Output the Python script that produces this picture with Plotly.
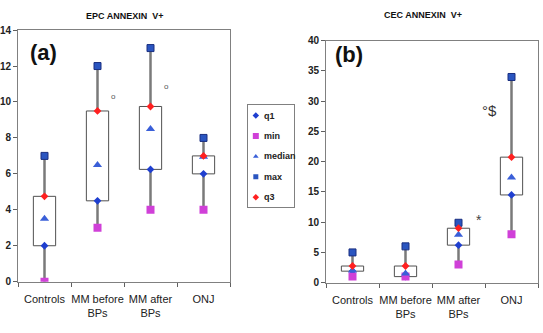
import plotly.graph_objects as go

categories = ["Controls", "MM before<br>BPs", "MM after<br>BPs", "ONJ"]

# Panel (a) EPC ANNEXIN V+
epc_min = [0, 3, 4, 4]
epc_q1 = [2, 4.5, 6.25, 6]
epc_median = [3.5, 6.5, 8.5, 6.95]
epc_q3 = [4.75, 9.5, 9.75, 7]
epc_max = [7, 12, 13, 8]
epc_outlier_cats = ["MM before<br>BPs", "MM after<br>BPs"]
epc_outlier_vals = [10.3, 10.85]

# Panel (b) CEC ANNEXIN V+
cec_min = [1, 1, 3, 8]
cec_q1 = [1.9, 1, 6.2, 14.5]
cec_median = [2, 1.5, 7.9, 17.4]
cec_q3 = [2.75, 2.75, 9, 20.75]
cec_max = [5, 6, 9.9, 34]

legend_names = ["q1", "min", "median", "max", "q3"]

FONT = "Arial, Liberation Sans, sans-serif"
WHISKER = "#7a7a7a"
BOXLINE = "#505050"

styles = {
    "q1": dict(symbol="diamond", size=6, color="#1f3fd0"),
    "min": dict(symbol="square", size=8, color="#d040d8"),
    "median": dict(symbol="triangle-up", size=8, color="#3a5fd8"),
    "max": dict(symbol="square", size=7, color="#2a55c0", line=dict(color="#1a2f80", width=1)),
    "q3": dict(symbol="diamond", size=6, color="#ff2020"),
}
legend_styles = {
    "q1": dict(symbol="diamond", size=5, color="#1f3fd0"),
    "min": dict(symbol="square", size=6, color="#d040d8"),
    "median": dict(symbol="triangle-up", size=5, color="#3a5fd8"),
    "max": dict(symbol="square", size=5, color="#2a55c0"),
    "q3": dict(symbol="diamond", size=5, color="#ff2020"),
}

fig = go.Figure()

def add_panel(xa, ya, mn, q1, med, q3, mx):
    fig.add_trace(go.Bar(x=categories, y=[b - a for a, b in zip(q1, q3)], base=q1,
                         width=0.42, marker=dict(color="white", line=dict(color=BOXLINE, width=1)),
                         xaxis=xa, yaxis=ya, showlegend=False, hoverinfo="skip"))
    wx, wy = [], []
    for c, a, b, d, e in zip(categories, mn, q1, q3, mx):
        wx += [c, c, None, c, c, None]
        wy += [a, b, None, d, e, None]
    fig.add_trace(go.Scatter(x=wx, y=wy, mode="lines", line=dict(color=WHISKER, width=2.5),
                             xaxis=xa, yaxis=ya, showlegend=False, hoverinfo="skip"))
    for name, vals in [("q1", q1), ("min", mn), ("median", med), ("max", mx), ("q3", q3)]:
        fig.add_trace(go.Scatter(x=categories, y=vals, mode="markers", name=name,
                                 marker=styles[name], xaxis=xa, yaxis=ya,
                                 showlegend=False))

add_panel("x", "y", epc_min, epc_q1, epc_median, epc_q3, epc_max)
add_panel("x2", "y2", cec_min, cec_q1, cec_median, cec_q3, cec_max)

# legend drawn on its own small axis
for i, name in enumerate(legend_names):
    fig.add_trace(go.Scatter(x=[0.17], y=[i], mode="markers", marker=legend_styles[name],
                             xaxis="x3", yaxis="y3", showlegend=False, hoverinfo="skip"))

axis_common = dict(showline=True, linecolor="#808080", linewidth=1, mirror=True,
                   showgrid=False, zeroline=False, ticks="outside", ticklen=4, tickcolor="#606060")

fig.update_layout(
    width=543, height=333, margin=dict(l=0, r=0, t=0, b=0),
    plot_bgcolor="white", paper_bgcolor="white",
    font=dict(family=FONT, color="#222"),
    barmode="overlay", showlegend=False,
    xaxis=dict(domain=[18/543, 230/543], type="category", tickson="boundaries", tickangle=0,
               ticklabelstandoff=7,
               tickfont=dict(size=11, color="#222"), anchor="y", **axis_common),
    yaxis=dict(domain=[1-286/333, 1-25/333], range=[0, 14], dtick=2,
               tickfont=dict(size=10, color="#222", weight="bold"), anchor="x", **axis_common),
    xaxis2=dict(domain=[326/543, 538/543], type="category", tickson="boundaries", tickangle=0,
                ticklabelstandoff=7,
                tickfont=dict(size=11, color="#222"), anchor="y2", **axis_common),
    yaxis2=dict(domain=[1-287/333, 1-36/333], range=[0, 40], dtick=5,
                tickfont=dict(size=10, color="#222", weight="bold"), anchor="x2", **axis_common),
    xaxis3=dict(domain=[248/543, 294/543], range=[0, 1], showline=True, mirror=True,
                linecolor="#808080", linewidth=1, showgrid=False, zeroline=False,
                showticklabels=False, ticks="", anchor="y3", fixedrange=True),
    yaxis3=dict(domain=[1-209/333, 1-103/333], range=[4.5, -0.5], showline=True, mirror=True,
                linecolor="#808080", linewidth=1, showgrid=False, zeroline=False,
                showticklabels=False, ticks="", anchor="x3", fixedrange=True),
)

ann = [
    dict(text="EPC ANNEXIN  V+", x=124/543, y=1-10/333, xref="paper", yref="paper",
         xanchor="center", yanchor="middle",
         showarrow=False, font=dict(size=9, weight="bold", color="#111")),
    dict(text="CEC ANNEXIN  V+", x=423/543, y=1-9/333, xref="paper", yref="paper",
         xanchor="center", yanchor="middle",
         showarrow=False, font=dict(size=9, weight="bold", color="#111")),
    dict(text="(a)", x=28/543, y=1-48/333, xref="paper", yref="paper", xanchor="left",
         yanchor="middle", showarrow=False, font=dict(size=22, weight="bold", color="#111")),
    dict(text="(b)", x=333/543, y=1-50/333, xref="paper", yref="paper", xanchor="left",
         yanchor="middle", showarrow=False, font=dict(size=22, weight="bold", color="#111")),
    dict(text="*", x="MM after<br>BPs", y=10.3, xref="x2", yref="y2", xshift=20,
         showarrow=False, font=dict(size=14, color="#444")),
    dict(text="°$", x="ONJ", y=28.4, xref="x2", yref="y2", xshift=-22,
         showarrow=False, font=dict(size=15, color="#333")),
]
for i, name in enumerate(legend_names):
    ann.append(dict(text=name, x=0.3, y=i, xref="x3", yref="y3", xanchor="left",
                    yanchor="middle", showarrow=False,
                    font=dict(size=9, weight="bold", color="#222")))
for c, v in zip(epc_outlier_cats, epc_outlier_vals):
    ann.append(dict(text="o", x=c, y=v, xref="x", yref="y", xshift=16,
                    showarrow=False, font=dict(size=8, color="#555")))
fig.update_layout(annotations=ann)

fig.write_html("out.html")
